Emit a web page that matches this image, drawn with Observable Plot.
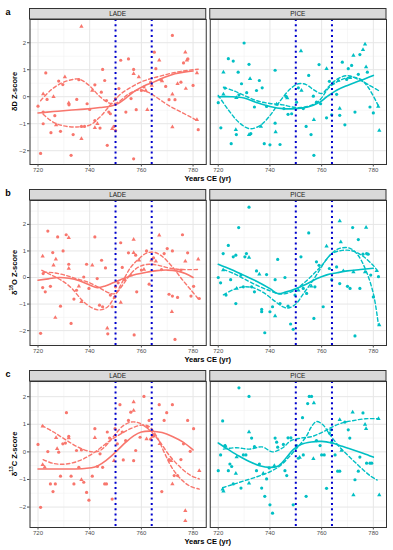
<!DOCTYPE html>
<html><head><meta charset="utf-8">
<script src="https://cdn.jsdelivr.net/npm/d3@7"></script>
<script src="https://cdn.jsdelivr.net/npm/@observablehq/plot@0.6"></script>
<style>
body{margin:0;background:#fff;}
#chart{position:relative;width:393px;height:550px;font-family:"Liberation Sans",Arial,sans-serif;}
#chart svg{position:absolute;left:0;}
</style></head><body><div id="chart"></div>
<script>
// ---------- data ----------
const sites = ["LADE", "PICE"];
const siteColors = ["#F8766D", "#00BFC4"];
const xTicks = [720, 740, 760, 780];
const xMinor = [730, 750, 770];
const yTicks = [-2, -1, 0, 1, 2];
const yMinor = [-2.5, -1.5, -0.5, 0.5, 1.5, 2.5];
const eventYears = [750, 764];
const panelLetters = ["a", "b", "c"];
const xTitle = "Years CE (yr)";

// Row a (δD)
const aLadeCircle = [[720,-0.35],[721,-2.1],[722,-1.0],[722,-0.57],[723,0.88],[723.5,-0.1],[725,-1.33],[726.5,-0.7],[728,0.58],[728.7,-1.28],[729.6,0.45],[732,-0.3],[733.6,-1.4],[732.8,-2.17],[735,-0.1],[735.8,0.63],[736.8,-1.1],[738,-1.1],[739,-0.26],[740,-0.47],[742,0.44],[742,-0.88],[744,-1.16],[744.5,0.17],[745,1.01],[745.8,0.6],[746.5,-0.14],[746.8,-1.8],[747.4,-0.57],[748,-0.63],[749.4,-1.1],[750,-1.25],[750,-0.07],[751.3,0.3],[752,1.35],[754,-0.57],[755,1.4],[756,-0.07],[757,-2.3],[757,1.01],[758,-0.48],[760,0.23],[761,0.36],[763.6,0.54],[765,1.65],[765.6,1.04],[767.5,0.63],[769.4,0.38],[770.7,-0.11],[772,2.27],[773,-0.11],[775.3,0.54],[776.3,1.25],[778,1.4],[780,0.42],[782,-1.22]];
const aLadeTriangle = [[722,0.1],[726,0],[727,-1.05],[730.4,0.73],[731.9,-0.23],[736.8,2.6],[736.8,-1.56],[741,0.23],[742,-1.15],[743,-1.0],[748.7,-1.19],[757,0.85],[759,0.73],[761.7,0.23],[762.3,-0.48],[764,0.42],[766.9,1.35],[768,0.58],[772,0.09],[772,-1.12],[774,0.48],[777,1.65],[777.2,0.3],[777.6,1.35],[781.5,0.88],[781.5,-0.85]];
const aLadeSolid = [[720,-0.6],[726,-0.55],[732,-0.5],[738,-0.46],[744,-0.4],[748,-0.35],[751,-0.25],[754,-0.05],[757,0.18],[761,0.4],[765,0.55],[769,0.72],[773,0.85],[777,0.92],[780,0.95]];
const aLadeDashA = [[721,-0.15],[725,0.25],[729,0.5],[733,0.63],[736,0.65],[740,0.4],[744,0.0],[748,-0.25],[751,-0.2],[755,0.1],[759,0.25],[763,0.15],[767,-0.1],[771,-0.35],[775,-0.55],[779,-0.75],[782,-0.9]];
const aLadeDashB = [[722,-0.65],[726,-0.95],[730,-1.08],[735,-1.12],[740,-1.05],[744,-0.75],[748,-0.3],[752,0.1],[756,0.35],[760,0.55],[764,0.68],[768,0.78],[772,0.88],[776,0.95],[780,1.0],[782,1.02]];

const aPiceCircle = [[720,-0.22],[721,-1.15],[722.6,0.32],[723.9,1.41],[725,-1.74],[725.8,1.32],[727,-1.4],[727.7,0.91],[728,0.07],[729,0.48],[730,1.99],[731,0.15],[731.9,1.2],[732.6,-1.37],[734,-0.38],[734.8,0.23],[735.9,0.6],[737,0.33],[737.8,-1.74],[738.7,-0.36],[740,-1.78],[742,0.98],[742,-0.98],[743.9,-1.77],[745.4,-0.44],[746.2,0.01],[747,-0.65],[748.4,-0.63],[750.3,-0.2],[751,0.33],[752.9,-0.44],[754,-1.1],[755,0.79],[755.9,-1.4],[756.8,0.02],[757,-2.17],[758,-0.2],[759,1.19],[759.6,-0.26],[761.9,-0.78],[763,0.57],[763.9,-0.67],[765.8,0.09],[767,-0.69],[768,1.28],[769,-1.04],[769.7,0.64],[770.3,1.04],[771.6,1.16],[772.9,-0.57],[774.2,0.83],[774.8,1.56],[777.7,0.91],[778.7,-0.38],[780,-0.6]];
const aPiceTriangle = [[722,0.91],[722,0.09],[726.8,-1.22],[727,-0.04],[731.9,-1.41],[732.3,0.67],[736.5,-1.1],[742.2,-1.31],[742.6,-0.28],[746.7,-0.05],[752,1.69],[752.2,0.23],[757,-0.85],[761.9,1.04],[764.5,0.51],[766.5,0.6],[767,-0.44],[771,0.7],[772.3,1.53],[776,1.74],[776.8,1.94],[777.2,1.1],[781.9,-0.36],[782.3,-1.25]];
const aPiceSolid = [[720,0.0],[725,0.0],[730,-0.05],[735,-0.22],[740,-0.36],[745,-0.44],[750,-0.44],[755,-0.37],[759,-0.22],[762,0.0],[766,0.25],[770,0.42],[775,0.6],[780,0.79]];
const aPiceDashA = [[720,0.05],[724,-0.5],[728,-0.95],[732,-1.18],[736,-1.08],[740,-0.7],[744,-0.15],[748,0.3],[751,0.48],[754,0.45],[757,0.25],[760,0.12],[763,0.4],[766,0.65],[770,0.78],[774,0.65],[778,0.45],[782,0.23]];
const aPiceDashB = [[722,0.35],[726,0.22],[730,0.05],[735,-0.15],[740,-0.25],[745,-0.3],[750,-0.4],[755,-0.35],[759,-0.15],[763,0.35],[767,0.6],[771,0.72],[775,0.65],[778,0.35],[782,-0.35]];

// Row b (δ18O)
const bLadeCircle = [[721,-2.1],[722,0.15],[721.8,-0.38],[722.8,-0.54],[723.8,1.75],[724.8,-0.33],[725.7,0.94],[727.6,1.53],[728.7,-1.08],[729.7,1.0],[730.9,1.61],[731.9,0.5],[732.8,-1.73],[733.9,-0.81],[734.9,-0.48],[737.7,0.02],[738.8,0.5],[739.7,-0.41],[742,1.53],[742.9,-0.04],[743.8,-1.04],[744.6,0.65],[745,-1.1],[746.1,0.36],[747,-2.12],[748,-0.66],[748.7,-1.1],[749.6,-0.75],[750,-0.35],[751,-0.2],[752,1.31],[752.6,0.38],[753.5,-0.08],[755,0.93],[757.2,-2.16],[757.8,0.84],[758.2,-0.54],[760,0.28],[762,1.0],[763,-0.25],[764.7,0.74],[767.8,0.3],[768.8,0.9],[770,1.09],[770.7,-0.63],[772,-0.7],[772,1.0],[773,-2.33],[774,-0.75],[775.3,0.28],[775.9,1.61],[777.9,0.93],[779.2,-0.7],[780.2,-0.33],[782.4,-0.79]];
const bLadeTriangle = [[721.8,0.8],[726,0.46],[726.9,0.69],[726.7,-1.51],[731.9,1.5],[731.9,0.34],[735.8,-0.33],[736.8,-0.91],[741,0.46],[746.8,-1.91],[752,-0.94],[755.9,0.09],[757,1.43],[757,0.93],[759.1,0.65],[761,0.3],[763.9,0.65],[765.6,0.61],[766.9,1.59],[771.8,-1.29],[777,0.61],[782,0.69]];
const bLadeSolid = [[720,-0.1],[724,-0.05],[728,0.0],[732,-0.03],[736,-0.12],[740,-0.28],[743,-0.38],[746,-0.32],[749,-0.2],[752,-0.08],[755,0.03],[758,0.12],[762,0.2],[766,0.26],[770,0.28],[774,0.24],[777,0.15],[780,0.0]];
const bLadeDashA = [[721.5,0.27],[725,0.1],[729,-0.1],[733,-0.4],[737,-0.85],[741,-1.15],[744,-1.22],[747,-1.1],[750,-0.65],[753,-0.1],[756,0.4],[759,0.7],[762,0.92],[765,0.95],[768,0.8],[772,0.4],[776,-0.1],[779,-0.45],[782,-0.8]];
const bLadeDashB = [[722,0.2],[726,0.18],[730,0.1],[735,-0.05],[740,-0.2],[744,-0.4],[748,-0.6],[750,-0.6],[753,-0.25],[756,0.15],[759,0.4],[763,0.5],[767,0.45],[771,0.35],[776,0.3],[782,0.3]];

const bPiceCircle = [[720,0],[720.9,-0.2],[721.9,0.9],[723,-0.66],[723.9,1.21],[724.8,-0.08],[725.8,0.78],[726.8,0.84],[726.8,-0.98],[727.9,1.88],[728.8,0.09],[729.7,-0.35],[730.3,0.78],[730.9,0.9],[731.9,2.65],[732.9,-0.35],[734,-0.54],[734.8,0.25],[736.8,-1.2],[736.8,-1.29],[738,-2.08],[738.7,0.11],[740,-1.29],[741,-1.1],[742,-0.08],[743,0.68],[743.9,-0.98],[745.8,0],[747,-1.08],[748,-1.75],[749,-1.95],[749.7,-0.66],[752,0.78],[752.9,-0.41],[754.2,-0.6],[755,1.68],[757,-1.54],[757.4,-0.35],[758,0.59],[759,0.46],[760.6,-1.1],[763,0.34],[763.9,-0.08],[765.8,0.4],[767,-0.23],[770,-0.33],[771,-0.41],[772,1.88],[772.9,-2.2],[774.2,1.43],[774.8,-0.41],[776,0.88],[777.4,0.9],[778,0.88],[779,0.09],[780,-0.73],[782,0.03]];
const bPiceTriangle = [[721.9,0.28],[727.1,-0.41],[731.9,0.75],[735.9,0.12],[742,-1.45],[751,-0.48],[756,-0.33],[761.9,1.18],[767,2.13],[767.4,1.34],[768.4,0.25],[772.3,0.21],[776.8,0.21],[777.2,1.88],[781.3,0.25],[782.3,-1.79]];
const bPiceSolid = [[720,0.5],[725,0.3],[730,0.08],[735,-0.15],[740,-0.42],[743,-0.6],[746,-0.55],[750,-0.42],[754,-0.25],[758,-0.05],[762,0.1],[766,0.18],[770,0.25],[775,0.3],[780,0.35]];
const bPiceDashA = [[722,-0.65],[726,-0.45],[730,-0.35],[734,-0.4],[738,-0.6],[742,-0.9],[745,-1.1],[747,-1.15],[750,-1.0],[753,-0.6],[756,-0.2],[759,0.25],[762,0.7],[765,1.0],[768,1.12],[771,1.1],[774,0.85],[777,0.3],[780,-0.6],[782,-1.8]];
const bPiceDashB = [[722,0.3],[726,0.15],[730,-0.05],[735,-0.3],[740,-0.5],[744,-0.62],[748,-0.55],[752,-0.3],[756,0.05],[760,0.45],[764,0.9],[768,1.02],[772,1.0],[776,0.8],[780,0.45],[782,0.2]];

// Row c (δ13C)
const cLadeCircle = [[720,0.27],[721,-2.01],[723.8,0.01],[724.8,-1.16],[725.8,-1.44],[726.7,-1.16],[728,-0.01],[728.7,-0.88],[729.6,0.29],[730.6,0.32],[731,1.42],[731.9,0.56],[732.8,-0.88],[733.9,-1.16],[734.9,0.05],[735.8,-0.56],[736.8,0.07],[737.7,-1.1],[738.8,-1.47],[739.7,-1.75],[741,-0.88],[742,0.84],[743,-0.53],[744,-0.07],[745,-0.56],[745.8,-1.16],[746.5,-1.16],[746.8,0.72],[747.7,0.5],[748.7,-1.71],[749.8,0.84],[750.7,0.29],[751.7,1.71],[752.6,0.72],[753,-0.29],[753.9,0.41],[755,1.14],[755.9,1.44],[757,-0.32],[757.8,0.05],[759.5,0.53],[761,2.01],[762.3,0.9],[763,1.14],[763.6,0.46],[765,0.59],[766.9,1.71],[767.9,-1.44],[768.8,1.14],[769.8,1.42],[770.7,-0.28],[772,1.71],[772.7,-0.86],[774,-0.86],[775.3,-0.28],[776.3,0.29],[777.9,1.14],[778.9,0.02],[780.2,0.84]];
const cLadeTriangle = [[721.8,0.93],[721.8,-0.47],[722.6,-0.56],[727,0.51],[727.4,0.11],[731.9,0.5],[736.8,-1.01],[742,0.51],[749.4,-0.32],[757,1.81],[757,1.5],[762,0.47],[764.3,0.56],[767.1,0.29],[771.5,-0.32],[772,-1.16],[777,-2.13],[777,-2.5],[782.4,-0.68]];
const cLadeSolid = [[720,-0.62],[726,-0.62],[732,-0.62],[738,-0.6],[742,-0.55],[745,-0.4],[748,-0.18],[751,0.08],[754,0.35],[757,0.58],[760,0.72],[764,0.75],[768,0.7],[772,0.56],[776,0.36],[780,0.07]];
const cLadeDashA = [[721.6,0.95],[726,0.72],[731,0.42],[736,0.15],[741,0.0],[744,0.05],[747,0.3],[750,0.65],[753,0.95],[756,1.08],[759,1.05],[763,0.8],[767,0.38],[771,-0.15],[775,-0.55],[779,-0.85],[782.4,-0.98]];
const cLadeDashB = [[722,-0.28],[726,-0.42],[731,-0.44],[736,-0.32],[740,-0.13],[744,0.13],[748,0.42],[752,0.65],[756,0.85],[760,0.97],[763,0.92],[766,0.55],[769,-0.05],[772,-0.6],[776,-1.05],[779,-1.25],[782.4,-1.35]];

const cPiceCircle = [[720,-0.68],[720.9,-0.11],[721.7,1.12],[722.6,0.23],[723.9,-0.68],[724.5,-0.44],[725.2,-0.53],[725.8,-1.16],[728,2.32],[728.8,-1.31],[729.7,-0.11],[730.7,-0.11],[731.9,2.01],[732.9,0.5],[734,0.19],[734.8,-0.68],[735.9,-0.44],[736.8,-1.31],[738,-1.61],[738.7,-0.98],[739.7,-0.58],[740,-1.92],[741,-2.22],[742,0.5],[742.6,0.35],[743,0.17],[745.2,0.27],[745.8,-0.68],[746.5,-0.86],[747,0.51],[748.1,0.51],[749,-1.92],[750.3,0.23],[751,-0.23],[752.6,1.24],[752.9,-0.11],[754,-1.61],[754.6,1.75],[755.2,2.01],[756.1,2.01],[758,0.41],[759.4,0.23],[760,-0.11],[761,-0.11],[761.9,-1.32],[763,0.68],[763.6,0.8],[763.9,0.35],[765.2,-0.11],[766.2,-0.7],[767,-0.7],[769,1.08],[770.3,0.8],[770.9,0.5],[772.9,-1.01],[774.2,-0.7],[774.8,-0.19],[776,1.41],[777.4,-0.41],[778.7,-0.41],[779.4,-0.41]];
const cPiceTriangle = [[721.7,-1.35],[722,-1.43],[722.8,0.2],[726.8,-0.78],[727.1,-0.19],[731.9,0.72],[731.9,-1.14],[737.4,-0.78],[741.7,-0.5],[751.5,-0.2],[756.8,-0.25],[757,1.77],[767,1.16],[767.7,0.05],[772,1.44],[772.3,-1.56],[776.8,0.99],[777.2,0.84],[782,1.2],[782.3,-1.56]];
const cPiceSolid = [[720,0.32],[724,0.08],[728,-0.15],[732,-0.35],[736,-0.5],[740,-0.56],[743,-0.52],[746,-0.25],[749,0.08],[752,0.27],[756,0.36],[760,0.38],[764,0.32],[768,0.2],[772,0.08],[776,-0.05],[780,-0.19]];
const cPiceDashA = [[721.7,-1.3],[725,-1.2],[730,-1.05],[735,-0.9],[740,-0.72],[744,-0.5],[748,-0.12],[751,0.2],[754,0.55],[756,0.9],[758,1.1],[760.5,0.98],[763,0.65],[767,0.17],[771,-0.2],[775,-0.56],[779,-0.88],[781.5,-1.02]];
const cPiceDashB = [[722,0.1],[727,0.15],[732,0.1],[737,0.18],[741,0.0],[745,0.15],[748,0.4],[752,0.5],[756,0.55],[760,0.7],[764,0.9],[768,1.05],[772,1.13],[777,1.2],[782,1.2]];

// ---------- build ----------
const pts = (site, shape, arr) => arr.map(([x, y]) => ({site, shape, x, y}));
const lns = (site, series, arr) => arr.map(([x, y]) => ({site, series: site + series, x, y}));

const rows = [
  {letter: panelLetters[0], iso: "D", sup: null, top: 0, height: 181, mb: 17, ydom: [-2.51, 2.86],
   points: [...pts("LADE","circle",aLadeCircle), ...pts("LADE","triangle",aLadeTriangle), ...pts("PICE","circle",aPiceCircle), ...pts("PICE","triangle",aPiceTriangle)],
   solid: [...lns("LADE","s",aLadeSolid), ...lns("PICE","s",aPiceSolid)],
   dashed: [...lns("LADE","A",aLadeDashA), ...lns("LADE","B",aLadeDashB), ...lns("PICE","A",aPiceDashA), ...lns("PICE","B",aPiceDashB)]},
  {letter: panelLetters[1], iso: "O", sup: "18", top: 181, height: 181, mb: 17, ydom: [-2.56, 2.9],
   points: [...pts("LADE","circle",bLadeCircle), ...pts("LADE","triangle",bLadeTriangle), ...pts("PICE","circle",bPiceCircle), ...pts("PICE","triangle",bPiceTriangle)],
   solid: [...lns("LADE","s",bLadeSolid), ...lns("PICE","s",bPiceSolid)],
   dashed: [...lns("LADE","A",bLadeDashA), ...lns("LADE","B",bLadeDashB), ...lns("PICE","A",bPiceDashA), ...lns("PICE","B",bPiceDashB)]},
  {letter: panelLetters[2], iso: "C", sup: "13", top: 362, height: 188, mb: 23, ydom: [-2.74, 2.55],
   points: [...pts("LADE","circle",cLadeCircle), ...pts("LADE","triangle",cLadeTriangle), ...pts("PICE","circle",cPiceCircle), ...pts("PICE","triangle",cPiceTriangle)],
   solid: [...lns("LADE","s",cLadeSolid), ...lns("PICE","s",cPiceSolid)],
   dashed: [...lns("LADE","A",cLadeDashA), ...lns("LADE","B",cLadeDashB), ...lns("PICE","A",cPiceDashA), ...lns("PICE","B",cPiceDashB)]}
];

const chart = document.getElementById("chart");
const MT = 19;
const font = "Liberation Sans, Arial, sans-serif";

rows.forEach(row => {
  const yMinorIn = yMinor.filter(v => v > row.ydom[0] && v < row.ydom[1]);
  const svg = Plot.plot({
    width: 393, height: row.height,
    marginLeft: 29.5, marginRight: 7, marginTop: MT, marginBottom: row.mb,
    style: {fontFamily: font, background: "transparent", overflow: "visible"},
    fx: {domain: sites, axis: null, paddingInner: 0.0222, paddingOuter: 0, round: false},
    x: {domain: [716.9, 785.1]},
    y: {domain: row.ydom},
    color: {domain: sites, range: siteColors},
    symbol: {domain: ["circle", "triangle"], range: ["circle", "triangle"]},
    marks: [
      Plot.gridX(xMinor, {stroke: "#f0f0f0", strokeOpacity: 1, strokeWidth: 0.6}),
      Plot.gridY(yMinorIn, {stroke: "#f0f0f0", strokeOpacity: 1, strokeWidth: 0.6}),
      Plot.gridX(xTicks, {stroke: "#e6e6e6", strokeOpacity: 1, strokeWidth: 1}),
      Plot.gridY(yTicks, {stroke: "#e6e6e6", strokeOpacity: 1, strokeWidth: 1}),
      Plot.dot(row.points, {x: "x", y: "y", fx: "site", fill: "site", symbol: "shape", r: 1.6}),
      Plot.line(row.solid, {x: "x", y: "y", fx: "site", z: "series", stroke: "site", strokeWidth: 1.6, curve: "catmull-rom"}),
      Plot.line(row.dashed, {x: "x", y: "y", fx: "site", z: "series", stroke: "site", strokeWidth: 1.4, strokeDasharray: "3.5,2.5", curve: "catmull-rom"}),
      Plot.ruleX(eventYears, {stroke: "#0000CD", strokeWidth: 2, strokeDasharray: "2,3.3"}),
      Plot.frame({stroke: "#333333", strokeWidth: 1}),
      Plot.axisX(xTicks, {tickSize: 2.5, tickPadding: 1, fontSize: 6, color: "#4d4d4d", label: null}),
      Plot.axisY(yTicks, {tickSize: 2.5, tickPadding: 1.5, fontSize: 6, color: "#4d4d4d", label: null})
    ]
  });
  svg.style.top = row.top + "px";
  chart.appendChild(svg);
  const s = d3.select(svg);
  const fxs = svg.scale("fx");
  const bw = fxs.bandwidth;
  // facet strips
  sites.forEach(site => {
    const x0 = fxs.apply(site);
    s.append("rect").attr("x", x0).attr("y", MT - 10.5).attr("width", bw).attr("height", 10.5)
      .attr("fill", "#d9d9d9").attr("stroke", "#333333").attr("stroke-width", 1);
    s.append("text").attr("x", x0 + bw / 2).attr("y", MT - 5.25).attr("text-anchor", "middle")
      .attr("dominant-baseline", "central").attr("font-size", 6.5).attr("fill", "#1a1a1a")
      .attr("font-family", font).text(site);
  });
  // panel letter
  s.append("text").attr("x", 8).attr("y", 15).attr("font-size", 9).attr("font-weight", "bold")
    .attr("font-family", font).attr("fill", "#000").text(row.letter);
  // x title
  const left = fxs.apply(sites[0]), right = fxs.apply(sites[1]) + bw;
  s.append("text").attr("x", (left + right) / 2).attr("y", row.height - row.mb + 14.5)
    .attr("text-anchor", "middle").attr("dominant-baseline", "central")
    .attr("font-size", 7.5).attr("font-weight", "bold").attr("font-family", font).attr("fill", "#000").text(xTitle);
  // y title
  const midY = (MT + row.height - row.mb) / 2;
  const t = s.append("text").attr("transform", `translate(14,${midY}) rotate(-90)`)
    .attr("text-anchor", "middle").attr("dominant-baseline", "central")
    .attr("font-size", 7.5).attr("font-weight", "bold").attr("font-family", font).attr("fill", "#000");
  t.append("tspan").text("δ");
  if (row.sup) {
    t.append("tspan").attr("dy", -2.6).attr("font-size", 5).text(row.sup);
    t.append("tspan").attr("dy", 2.6).text(row.iso + " Z-score");
  } else {
    t.append("tspan").text(row.iso + " Z-score");
  }
});
</script></body></html>
